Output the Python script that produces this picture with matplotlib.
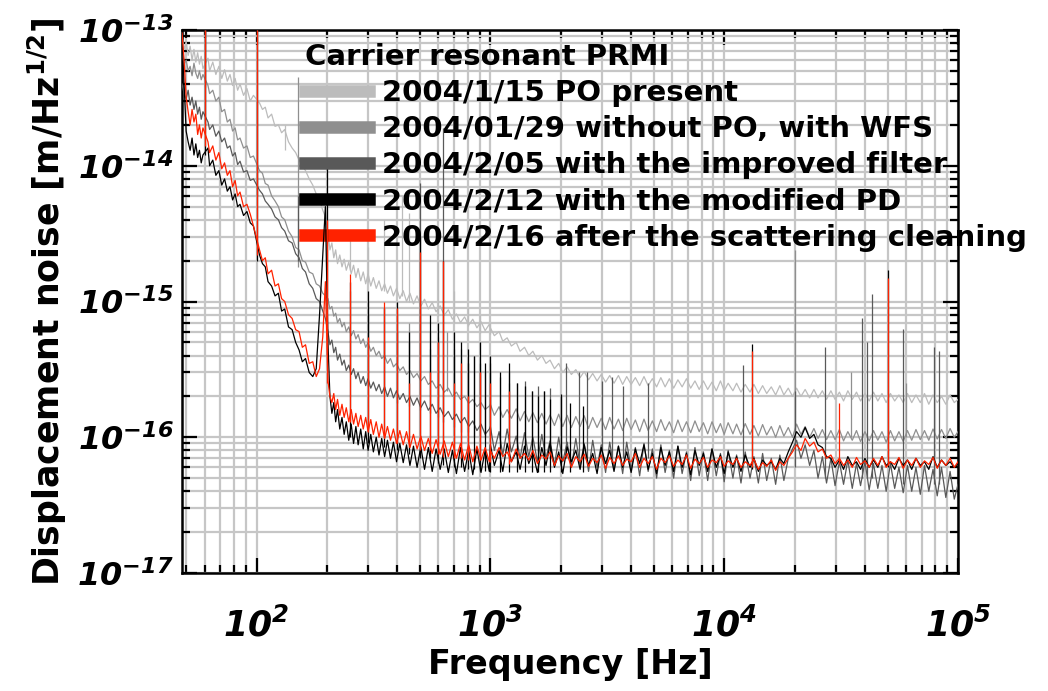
import numpy as np
import matplotlib.pyplot as plt
from matplotlib.ticker import FixedLocator, FixedFormatter, NullFormatter, LogLocator

plt.rcParams['font.family'] = 'DejaVu Sans'
plt.rcParams['font.weight'] = 'bold'
plt.rcParams['mathtext.fontset'] = 'custom'
plt.rcParams['mathtext.rm'] = 'DejaVu Sans:bold:italic'
plt.rcParams['mathtext.bf'] = 'DejaVu Sans:bold'
plt.rcParams['mathtext.default'] = 'rm'

# frequency bins [Hz]
freq_lo = [48, 49, 50, 51, 52, 53, 54, 55, 56, 57,
           58, 59, 62, 63, 65, 67, 69, 71, 73, 75,
           77, 79, 81, 83, 85, 88, 91, 94, 97, 103,
           106, 109, 112, 116, 120, 124, 128, 132, 137, 142,
           147, 152, 157, 162, 168, 174, 180, 186, 192, 197]
freq_mid = [202, 206, 210, 214, 218, 222, 227, 232, 237, 242,
            248, 254, 260, 266, 272, 279, 286, 293, 300, 308,
            316, 325, 334, 343, 353, 363, 374, 385, 397, 410,
            424, 438, 453, 469, 486, 504, 523, 543, 564, 586,
            610, 635, 661, 688, 716, 745, 776, 808, 841, 876,
            912, 950, 990]
freq_hi = [1000, 1040, 1090, 1130, 1180, 1230, 1290, 1340, 1400, 1460,
           1520, 1590, 1660, 1730, 1800, 1880, 1960, 2040, 2130, 2220,
           2320, 2420, 2520, 2630, 2740, 2860, 2980, 3110, 3240, 3380,
           3530, 3680, 3830, 4000, 4170, 4350, 4540, 4730, 4930, 5140,
           5360, 5590, 5830, 6080, 6340, 6610, 6900, 7190, 7500, 7820,
           8150, 8500, 8870, 9250, 9640, 10000, 10400, 10900, 11300, 11800,
           12300, 12900, 13400, 14000, 14600, 15200, 15900, 16600, 17300, 18000,
           18800, 19600, 20400, 21300, 22200, 23200, 24200, 25200, 26300, 27400,
           28600, 29800, 31100, 32400, 33800, 35300, 36800, 38300, 40000, 41700,
           43500, 45400, 47300, 49300, 51400, 53600, 55900, 58300, 60800, 63400,
           66100, 69000, 71900, 75000, 78200, 81500, 85000, 88700, 92500, 96400,
           100000]

# displacement noise, units of 1e-16 m/rtHz
# 2004/1/15
a15_lo = [900, 720, 820, 650, 760, 600, 720, 580, 680, 560,
          640, 520, 620, 500, 580, 470, 540, 440, 510, 420,
          470, 390, 440, 360, 400, 330, 370, 300, 330, 290,
          260, 270, 225, 240, 195, 200, 175, 185, 150, 135,
          125, 110, 100, 92, 80, 72, 62, 56, 47, 42]
a15_mid = [32, 24, 27, 21, 24, 19, 22, 18, 20.5, 17,
           19.5, 16, 18.5, 15, 17.5, 14.2, 16.5, 13.5, 16, 13,
           15, 12.5, 14.2, 12, 13.5, 11.5, 13, 11, 12.5, 10.5,
           12, 10, 11.5, 9.6, 11, 9.2, 10.4, 8.8, 9.8, 8.4,
           9.3, 7.9, 8.7, 7.4, 8.1, 7.0, 7.7, 6.7, 7.4, 6.4,
           7.1, 6.1, 6.8]
a15_hi = [6.4, 5.6, 6.0, 5.1, 5.4, 4.7, 5.0, 4.3, 4.6, 4.0,
          4.3, 3.7, 4.0, 3.5, 3.7, 3.2, 3.5, 3.0, 3.3, 2.9,
          3.15, 2.75, 3.05, 2.65, 2.95, 2.6, 2.9, 2.55, 2.85, 2.5,
          2.85, 2.45, 2.8, 2.45, 2.75, 2.4, 2.8, 2.4, 2.7, 2.35,
          2.75, 2.35, 2.7, 2.3, 2.65, 2.35, 2.7, 2.3, 2.6, 2.25,
          2.6, 2.25, 2.55, 2.2, 2.6, 2.2, 2.5, 2.2, 2.5, 2.15,
          2.45, 2.15, 2.45, 2.1, 2.4, 2.1, 2.35, 2.05, 2.4, 2.05,
          2.3, 2.0, 2.3, 2.0, 2.25, 1.95, 2.25, 1.95, 2.2, 1.9,
          2.2, 1.9, 2.15, 1.85, 2.2, 1.9, 2.15, 1.85, 2.1, 1.85,
          2.15, 1.85, 2.1, 1.8, 2.1, 1.85, 2.05, 1.8, 2.1, 1.8,
          2.05, 1.8, 2.1, 1.75, 2.05, 1.8, 2.0, 1.75, 2.05, 1.8,
          1.9]
# 2004/01/29
a29_lo = [680, 560, 600, 500, 540, 460, 570, 480, 440, 500,
          430, 470, 390, 340, 360, 300, 320, 250, 260, 210,
          220, 180, 190, 155, 160, 135, 140, 115, 118, 92,
          88, 74, 72, 60, 55, 50, 42, 40, 33, 30,
          25, 24, 20, 19.5, 16.5, 16, 13.5, 13, 11.5, 11]
a29_mid = [10.5, 8.8, 9.2, 7.8, 8.2, 7.0, 7.5, 6.5, 7.0, 6.0,
           6.5, 5.6, 6.1, 5.3, 5.7, 4.9, 5.3, 4.6, 5.0, 4.3,
           4.6, 4.0, 4.3, 3.8, 4.0, 3.5, 3.8, 3.3, 3.5, 3.1,
           3.3, 2.9, 3.1, 2.75, 2.95, 2.6, 2.8, 2.45, 2.6, 2.3,
           2.45, 2.15, 2.3, 2.0, 2.15, 1.9, 2.0, 1.78, 1.9, 1.68,
           1.8, 1.6, 1.7]
a29_hi = [1.75, 1.45, 1.68, 1.4, 1.6, 1.38, 1.62, 1.32, 1.55, 1.3,
          1.52, 1.28, 1.5, 1.25, 1.46, 1.22, 1.48, 1.2, 1.45, 1.18,
          1.42, 1.2, 1.44, 1.16, 1.4, 1.18, 1.38, 1.14, 1.4, 1.15,
          1.36, 1.12, 1.38, 1.14, 1.34, 1.1, 1.36, 1.12, 1.32, 1.1,
          1.35, 1.12, 1.3, 1.08, 1.34, 1.1, 1.3, 1.08, 1.32, 1.1,
          1.28, 1.06, 1.3, 1.08, 1.26, 1.05, 1.28, 1.06, 1.25, 1.04,
          1.26, 1.05, 1.22, 1.02, 1.24, 1.04, 1.2, 1.0, 1.22, 1.02,
          1.18, 1.0, 1.25, 1.05, 1.2, 1.0, 1.16, 0.98, 1.14, 0.96,
          1.12, 0.96, 1.14, 0.94, 1.1, 0.95, 1.12, 0.93, 1.1, 0.94,
          1.12, 0.95, 1.1, 0.92, 1.12, 0.94, 1.1, 0.93, 1.12, 0.95,
          1.14, 0.96, 1.12, 0.95, 1.15, 0.97, 1.14, 0.98, 1.16, 1.0,
          1.1]
# 2004/2/05
a05_lo = [400, 340, 310, 360, 280, 320, 260, 300, 240, 270,
          220, 250, 210, 185, 200, 165, 180, 150, 160, 135,
          140, 118, 125, 102, 108, 90, 92, 78, 80, 66,
          62, 55, 52, 48, 42, 40, 35, 33, 28, 27,
          22.5, 21, 17.5, 16.5, 13.5, 12.5, 10.5, 10, 8.5, 7.5]
a05_mid = [6.0, 4.8, 5.2, 4.2, 4.6, 3.7, 4.1, 3.4, 3.7, 3.1,
           3.4, 2.9, 3.2, 2.7, 3.0, 2.5, 2.8, 2.4, 2.7, 2.3,
           2.55, 2.2, 2.45, 2.1, 2.35, 2.0, 2.3, 1.95, 2.2, 1.9,
           2.1, 1.8, 2.0, 1.72, 1.95, 1.65, 1.85, 1.58, 1.75, 1.5,
           1.65, 1.42, 1.55, 1.35, 1.48, 1.28, 1.4, 1.2, 1.32, 1.12,
           1.25, 1.05, 1.15]
a05_hi = [1.2, 0.8, 1.1, 0.74, 1.15, 0.78, 1.02, 0.7, 1.08, 0.72,
          1.0, 0.66, 1.05, 0.7, 0.94, 0.62, 1.0, 0.66, 0.92, 0.6,
          0.98, 0.62, 0.9, 0.56, 0.95, 0.6, 0.88, 0.55, 0.92, 0.58,
          0.86, 0.54, 0.92, 0.58, 0.84, 0.52, 0.9, 0.56, 0.82, 0.5,
          0.88, 0.55, 0.8, 0.5, 0.86, 0.54, 0.78, 0.48, 0.84, 0.52,
          0.78, 0.48, 0.82, 0.52, 0.76, 0.47, 0.8, 0.5, 0.74, 0.46,
          0.78, 0.5, 0.72, 0.46, 0.76, 0.48, 0.7, 0.45, 0.74, 0.48,
          0.7, 0.82, 0.95, 0.7, 0.88, 0.62, 0.8, 0.5, 0.72, 0.46,
          0.7, 0.44, 0.66, 0.45, 0.68, 0.42, 0.64, 0.44, 0.66, 0.41,
          0.64, 0.42, 0.62, 0.4, 0.64, 0.42, 0.6, 0.39, 0.62, 0.4,
          0.6, 0.38, 0.62, 0.4, 0.58, 0.37, 0.6, 0.36, 0.56, 0.35,
          0.45]
# 2004/2/12
a12_lo = [900, 400, 180, 150, 130, 160, 120, 145, 115, 130,
          105, 120, 135, 100, 110, 85, 92, 72, 80, 65,
          70, 56, 62, 50, 52, 43, 46, 38, 36, 22,
          19, 18, 14, 13, 11, 11.5, 8.5, 8.8, 6.5, 6.2,
          5.0, 4.4, 3.6, 3.8, 3.0, 2.8, 3.2, 8.0, 22, 50]
a12_mid = [5.0, 2.0, 1.5, 1.8, 1.3, 1.6, 1.15, 1.4, 1.05, 1.3,
           0.95, 1.25, 0.9, 1.2, 0.88, 1.15, 0.82, 1.1, 0.8, 1.05,
           0.78, 1.0, 0.74, 0.98, 0.72, 0.95, 0.7, 0.92, 0.66, 0.9,
           0.65, 0.88, 0.62, 0.86, 0.6, 0.85, 0.58, 0.84, 0.56, 0.82,
           0.58, 0.82, 0.55, 0.8, 0.54, 0.84, 0.56, 0.8, 0.53, 0.82,
           0.55, 0.8, 0.56]
a12_hi = [0.88, 0.62, 0.8, 0.56, 0.9, 0.66, 0.78, 0.58, 0.86, 0.64,
          0.76, 0.55, 0.84, 0.62, 0.9, 0.6, 0.78, 0.54, 0.85, 0.66,
          0.8, 0.58, 0.88, 0.62, 0.76, 0.54, 0.84, 0.64, 0.8, 0.56,
          0.86, 0.6, 0.78, 0.55, 0.82, 0.64, 0.88, 0.58, 0.76, 0.54,
          0.84, 0.62, 0.78, 0.56, 0.86, 0.6, 0.76, 0.53, 0.8, 0.62,
          0.76, 0.56, 0.82, 0.6, 0.74, 0.54, 0.78, 0.6, 0.72, 0.56,
          0.74, 0.6, 0.7, 0.56, 0.68, 0.62, 0.66, 0.58, 0.7, 0.64,
          0.78, 0.92, 1.1, 1.0, 1.18, 0.98, 1.05, 0.88, 0.84, 0.72,
          0.7, 0.6, 0.68, 0.58, 0.72, 0.62, 0.66, 0.58, 0.7, 0.6,
          0.68, 0.6, 0.72, 0.62, 0.66, 0.58, 0.7, 0.62, 0.68, 0.58,
          0.7, 0.62, 0.66, 0.58, 0.72, 0.6, 0.68, 0.62, 0.66, 0.6,
          0.64]
# 2004/2/16
a16_lo = [950, 600, 320, 250, 200, 260, 210, 240, 170, 200,
          160, 190, 150, 125, 140, 110, 125, 95, 105, 85,
          92, 70, 78, 60, 64, 50, 52, 44, 36, 24,
          20, 21, 16, 17, 13, 13.5, 10.5, 10, 8, 7.5,
          6.2, 6.0, 4.6, 4.8, 3.5, 3.6, 2.8, 3.2, 5.5, 14]
a16_mid = [2.6, 2.0, 1.8, 2.1, 1.6, 1.9, 1.45, 1.75, 1.4, 1.65,
           1.3, 1.6, 1.25, 1.5, 1.2, 1.45, 1.15, 1.4, 1.1, 1.35,
           1.05, 1.3, 1.0, 1.25, 0.98, 1.2, 0.95, 1.15, 0.9, 1.12,
           0.88, 1.1, 0.84, 1.05, 0.82, 1.02, 0.8, 0.98, 0.76, 0.96,
           0.75, 0.94, 0.72, 0.92, 0.7, 0.9, 0.68, 0.88, 0.66, 0.86,
           0.68, 0.84, 0.66]
a16_hi = [0.8, 0.7, 0.84, 0.72, 0.78, 0.66, 0.82, 0.7, 0.76, 0.68,
          0.8, 0.64, 0.74, 0.69, 0.78, 0.62, 0.73, 0.67, 0.76, 0.6,
          0.72, 0.66, 0.75, 0.61, 0.7, 0.65, 0.74, 0.59, 0.71, 0.64,
          0.73, 0.62, 0.69, 0.66, 0.76, 0.6, 0.7, 0.64, 0.72, 0.58,
          0.7, 0.65, 0.73, 0.61, 0.68, 0.63, 0.74, 0.59, 0.69, 0.64,
          0.71, 0.6, 0.68, 0.65, 0.72, 0.61, 0.67, 0.63, 0.7, 0.6,
          0.66, 0.62, 0.69, 0.58, 0.65, 0.61, 0.68, 0.57, 0.66, 0.62,
          0.7, 0.78, 0.88, 0.8, 0.98, 0.86, 0.92, 0.78, 0.82, 0.7,
          0.74, 0.64, 0.7, 0.62, 0.68, 0.6, 0.71, 0.63, 0.67, 0.6,
          0.7, 0.62, 0.72, 0.6, 0.66, 0.63, 0.71, 0.59, 0.68, 0.62,
          0.7, 0.6, 0.67, 0.63, 0.71, 0.59, 0.68, 0.62, 0.7, 0.6,
          0.66]

# narrow lines: frequency, floor, peak (same units)
spk_f_15 = [60, 100, 132, 250, 300, 350, 420, 450, 500, 600, 700, 800, 900, 1000]
spk_top_15 = [1000, 1000, 200, 30, 25, 40, 60, 45, 30, 20, 12, 9, 8, 7]
spk_bot_15 = [600, 280, 130, 17, 14, 12, 11, 10, 9, 7.8, 7, 6.6, 5.9, 5.8]

spk_f_29 = [60, 150, 250, 300, 350, 400, 450, 500, 550, 600,
            650, 700, 800, 900, 1000, 1200, 20100, 35000, 60000]
spk_top_29 = [1000, 450, 12, 10, 9, 8, 7, 9, 6, 5.5,
              6, 4.5, 3.5, 3, 3, 2.5, 24, 3, 2.5]
spk_bot_29 = [380, 18, 6, 5, 4, 3.5, 3.2, 2.8, 2.6, 2.3,
              2.2, 2.0, 1.8, 1.7, 1.6, 1.4, 1.1, 1.0, 1.0]

spk_f_05 = [60, 100, 150, 250, 300, 350, 400, 450, 500, 550,
            600, 630, 700, 750, 800, 850, 900, 950, 1000, 1100,
            1200, 1300, 1400, 1500, 1600, 1700, 1800, 2000, 2100, 2400,
            2600, 3000, 3300, 3700, 4700, 12000, 20100, 27000, 39000, 41000,
            43000, 58000, 79000, 83000]
spk_top_05 = [1000, 300, 60, 6, 8, 5, 6, 5, 75, 4.5,
              5, 190, 4, 4.5, 3.5, 4, 3.5, 3, 3.5, 2.8,
              3, 2.5, 2.6, 2.2, 2.4, 2.2, 2.3, 2.0, 3.5, 3,
              3.0, 2.6, 2.8, 2.4, 2.5, 3.4, 2.2, 4.6, 7.6, 5,
              11.4, 6.3, 4.6, 4.3]
spk_bot_05 = [200, 60, 20, 3.2, 2.4, 2.1, 1.8, 1.7, 1.6, 1.5,
              1.4, 1.3, 1.2, 1.1, 1.1, 1.0, 1.0, 1.0, 1.0, 0.9,
              0.9, 0.85, 0.8, 0.8, 0.75, 0.75, 0.7, 0.7, 0.7, 0.7,
              0.7, 0.7, 0.7, 0.7, 0.7, 0.6, 0.6, 0.5, 0.5, 0.5,
              0.5, 0.45, 0.45, 0.45]

spk_f_12 = [60, 100, 200, 250, 300, 350, 400, 450, 500, 550,
            600, 630, 700, 750, 800, 850, 900, 950, 1000, 1100,
            1200, 1300, 1400, 1500, 1600, 1700, 1800, 2000, 2200, 2500,
            13100, 50000]
spk_top_12 = [1000, 1000, 95, 14, 12, 9, 10, 6, 30, 8,
              7, 20, 6, 5, 4.5, 4, 5, 3.5, 4, 3,
              3.5, 2.5, 2.4, 2.2, 2.0, 2.2, 1.9, 2.1, 1.8, 1.7,
              4.9, 17]
spk_bot_12 = [120, 20, 4, 1.0, 0.9, 0.85, 0.8, 0.75, 0.7, 0.7,
              0.65, 0.62, 0.6, 0.6, 0.58, 0.58, 0.56, 0.56, 0.55, 0.55,
              0.55, 0.55, 0.55, 0.55, 0.55, 0.55, 0.55, 0.55, 0.55, 0.55,
              0.58, 0.6]

spk_f_16 = [60, 100, 200, 250, 300, 350, 400, 450, 500, 550,
            600, 630, 700, 750, 800, 900, 1000, 1200, 13100, 31000, 50000]
spk_top_16 = [1000, 1000, 40, 16, 5.5, 10, 9, 2.5, 23, 3,
              5, 20, 2.5, 3.5, 2, 3, 2.5, 2.2, 4.3, 1.8, 15]
spk_bot_16 = [140, 22, 2.5, 1.3, 1.1, 1.0, 0.9, 0.85, 0.8, 0.8,
              0.75, 0.72, 0.7, 0.7, 0.68, 0.68, 0.66, 0.64, 0.6, 0.64, 0.62]

labels = ['2004/1/15 PO present',
          '2004/01/29 without PO, with WFS',
          '2004/2/05 with the improved filter',
          '2004/2/12 with the modified PD',
          '2004/2/16 after the scattering cleaning']
colors = ['#bcbcbc', '#8f8f8f', '#595959', '#000000', '#ff2200']
unit = 1e-16

freq = freq_lo + freq_mid + freq_hi
series = [(a15_lo + a15_mid + a15_hi, spk_f_15, spk_bot_15, spk_top_15),
          (a29_lo + a29_mid + a29_hi, spk_f_29, spk_bot_29, spk_top_29),
          (a05_lo + a05_mid + a05_hi, spk_f_05, spk_bot_05, spk_top_05),
          (a12_lo + a12_mid + a12_hi, spk_f_12, spk_bot_12, spk_top_12),
          (a16_lo + a16_mid + a16_hi, spk_f_16, spk_bot_16, spk_top_16)]

fig = plt.figure(figsize=(10.48, 6.91), dpi=100)
ax = fig.add_axes([182/1048, 1-573/691, (958-182)/1048, (573-30)/691])
ax.set_xscale('log')
ax.set_yscale('log')

for i, (asd, sf, sb, st) in enumerate(series):
    ax.plot(freq, np.array(asd)*unit, color=colors[i], lw=0.9, label=labels[i], zorder=3+i)
    ax.vlines(sf, np.array(sb)*unit, np.array(st)*unit, color=colors[i], lw=0.9, zorder=3+i)

ax.set_xlim(48, 1e5)
ax.set_ylim(1e-17, 1e-13)

ax.xaxis.set_major_locator(FixedLocator([1e2, 1e3, 1e4, 1e5]))
ax.xaxis.set_major_formatter(FixedFormatter([r'$10^{%d}$' % k for k in [2, 3, 4, 5]]))
ax.yaxis.set_major_locator(FixedLocator([1e-17, 1e-16, 1e-15, 1e-14, 1e-13]))
ax.yaxis.set_major_formatter(FixedFormatter([r'$10^{%d}$' % k for k in [-17, -16, -15, -14, -13]]))
for a in (ax.xaxis, ax.yaxis):
    a.set_minor_locator(LogLocator(base=10, subs=np.arange(2, 10), numticks=20))
    a.set_minor_formatter(NullFormatter())

ax.grid(True, which='both', color='#c6c6c6', lw=1.6)
ax.set_axisbelow(True)
ax.tick_params(which='both', direction='in', top=True, right=True, width=1.6)
ax.tick_params(which='major', length=11)
ax.tick_params(which='minor', length=6)
ax.tick_params(axis='x', pad=25, labelsize=25)
ax.tick_params(axis='y', pad=6, labelsize=23)
for s in ax.spines.values():
    s.set_linewidth(1.8)

ax.set_xlabel('Frequency [Hz]', fontsize=24, fontweight='bold', labelpad=3)
ax.set_ylabel(r'Displacement noise [m/Hz$^{\mathbf{1/2}}$]', fontsize=25, fontweight='bold')
ax.yaxis.set_label_coords(-0.145, 0.5)

leg = ax.legend(title='Carrier resonant PRMI', loc='upper left', bbox_to_anchor=(0.155, 0.982),
                frameon=False, fontsize=21, title_fontproperties={'weight': 'bold', 'size': 21},
                handlelength=2.2, handletextpad=0.45, labelspacing=0.28, borderaxespad=0,
                borderpad=0.1, alignment='left')
for h in leg.get_lines():
    h.set_linewidth(9)

fig.savefig('out.png', dpi=100)
